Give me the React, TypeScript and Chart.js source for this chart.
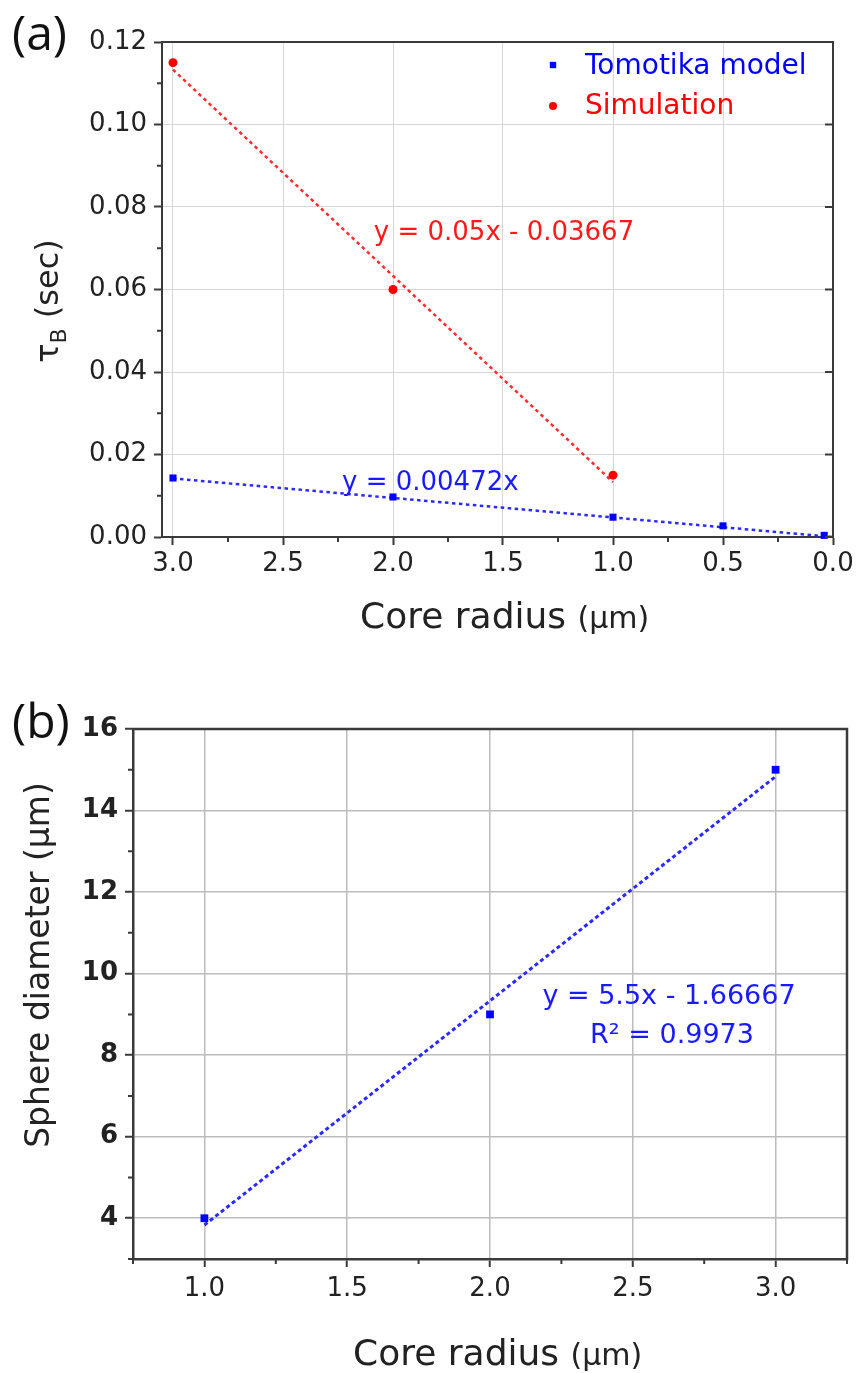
import React, { useEffect, useRef } from 'react';
import { Chart, registerables } from 'chart.js';
Chart.register(...registerables);

// ---------- panel (a) data ----------
const tomotikaRadius = [3.0, 2.0, 1.0, 0.5, 0.04];
const tomotikaTau = [0.0143, 0.0097, 0.0048, 0.0027, 0.0004];
const simulationRadius = [3.0, 2.0, 1.0];
const simulationTau = [0.115, 0.06, 0.015];
const simulationFitX = [3.0, 1.0];
const simulationFitY = [0.1133, 0.0133];
const tomotikaFitX = [3.0, 0.0];
const tomotikaFitY = [0.0142, 0.0];
const aXTicks = [3.0, 2.5, 2.0, 1.5, 1.0, 0.5, 0.0];
const aXMinor = [2.75, 2.25, 1.75, 1.25, 0.75, 0.25];
const aYTicks = [0.0, 0.02, 0.04, 0.06, 0.08, 0.1, 0.12];
const aYMinor = [0.01, 0.03, 0.05, 0.07, 0.09, 0.11];

// ---------- panel (b) data ----------
const sphereRadius = [1.0, 2.0, 3.0];
const sphereDiameter = [4, 9, 15];
const sphereFitX = [1.0, 3.0];
const sphereFitY = [3.833, 14.833];
const bXTicks = [1.0, 1.5, 2.0, 2.5, 3.0];
const bXMinor = [0.75, 1.25, 1.75, 2.25, 2.75, 3.25];
const bYTicks = [4, 6, 8, 10, 12, 14, 16];
const bYMinor = [3, 5, 7, 9, 11, 13, 15];

const FAM = '"DejaVu Sans"';
const F = (size: number, weight = 'normal') => `${weight} ${size}px ${FAM}`;
const pts = (xs: number[], ys: number[]) => xs.map((x, i) => ({ x, y: ys[i] }));

const BLUE = '#0000ff';
const RED = '#ff0000';
const AXIS = '#3a3a3a';
const LABEL = '#222222';

const deco = {
  id: 'deco',
  afterDraw(chart: any, _args: any, o: any) {
    const { ctx, chartArea: a, scales } = chart;
    const xs = scales.x;
    const ys = scales.y;
    ctx.save();
    // top and right frame
    ctx.strokeStyle = o.frameColor;
    ctx.lineWidth = o.frameWidth;
    ctx.beginPath();
    ctx.moveTo(a.left - o.frameWidth / 2, a.top);
    ctx.lineTo(a.right, a.top);
    ctx.lineTo(a.right, a.bottom + o.frameWidth / 2);
    ctx.stroke();
    // minor ticks
    ctx.lineWidth = o.tickWidth;
    ctx.beginPath();
    for (const v of o.minorX) {
      const px = xs.getPixelForValue(v);
      ctx.moveTo(px, a.bottom);
      ctx.lineTo(px, a.bottom + o.minorLen);
    }
    for (const v of o.minorY) {
      const py = ys.getPixelForValue(v);
      ctx.moveTo(a.left, py);
      ctx.lineTo(a.left - o.minorLen, py);
    }
    for (const v of o.mirrorY || []) {
      const py = ys.getPixelForValue(v);
      ctx.moveTo(a.right, py);
      ctx.lineTo(a.right - o.mirrorLen, py);
    }
    ctx.stroke();
    // legend
    for (const it of o.legend || []) {
      ctx.fillStyle = it.color;
      if (it.style === 'rect') {
        const s = it.r * Math.SQRT2;
        ctx.fillRect(it.mx - s / 2, it.my - s / 2, s, s);
      } else {
        ctx.beginPath();
        ctx.arc(it.mx, it.my, it.r, 0, Math.PI * 2);
        ctx.fill();
      }
      ctx.font = it.font;
      ctx.textBaseline = 'alphabetic';
      ctx.textAlign = 'left';
      ctx.fillText(it.label, it.tx, it.ty);
    }
    // texts
    for (const item of o.texts || []) {
      ctx.save();
      ctx.translate(item.x, item.y);
      if (item.rotate) ctx.rotate(item.rotate);
      ctx.textBaseline = 'alphabetic';
      ctx.textAlign = 'left';
      let total = 0;
      for (const p of item.parts) {
        ctx.font = p.font;
        total += ctx.measureText(p.t).width;
      }
      let x = item.align === 'center' ? -total / 2 : item.align === 'right' ? -total : 0;
      for (const p of item.parts) {
        ctx.font = p.font;
        ctx.fillStyle = p.color || item.color || LABEL;
        ctx.fillText(p.t, x, p.dy || 0);
        x += ctx.measureText(p.t).width;
      }
      ctx.restore();
    }
    ctx.restore();
  },
};

function axis(opts: any) {
  return {
    type: 'linear',
    min: opts.min,
    max: opts.max,
    reverse: !!opts.reverse,
    afterBuildTicks: (s: any) => {
      s.ticks = opts.ticks.map((v: number) => ({ value: v }));
    },
    afterFit: (s: any) => {
      if (opts.width != null) s.width = opts.width;
      if (opts.height != null) s.height = opts.height;
    },
    ticks: {
      autoSkip: false,
      maxRotation: 0,
      padding: opts.padding,
      color: LABEL,
      font: { family: 'DejaVu Sans', size: opts.fontSize, weight: opts.weight || 'normal' },
      callback: (v: number) => Number(v).toFixed(opts.decimals),
    },
    grid: {
      color: opts.gridColor,
      lineWidth: opts.gridWidth,
      tickColor: AXIS,
      tickWidth: 2,
      tickLength: 8,
      drawTicks: true,
    },
    border: { display: true, color: AXIS, width: opts.borderWidth },
  };
}

function makeA(): any {
  return {
    type: 'scatter',
    data: {
      datasets: [
        {
          label: 'Tomotika model',
          data: pts(tomotikaRadius, tomotikaTau),
          pointStyle: 'rect',
          pointRadius: 5,
          backgroundColor: BLUE,
          borderColor: BLUE,
          borderWidth: 0,
          clip: false,
        },
        {
          label: 'Simulation',
          data: pts(simulationRadius, simulationTau),
          pointStyle: 'circle',
          pointRadius: 4.5,
          backgroundColor: RED,
          borderColor: RED,
          borderWidth: 0,
          clip: false,
        },
        {
          label: 'Simulation fit',
          data: pts(simulationFitX, simulationFitY),
          showLine: true,
          pointRadius: 0,
          borderColor: '#ff2a2a',
          borderWidth: 2.5,
          borderDash: [3.5, 3.5],
        },
        {
          label: 'Tomotika fit',
          data: pts(tomotikaFitX, tomotikaFitY),
          showLine: true,
          pointRadius: 0,
          borderColor: '#2a2aff',
          borderWidth: 2.5,
          borderDash: [3.5, 3.5],
        },
      ],
    },
    options: {
      responsive: false,
      animation: false,
      layout: { padding: { top: 42, right: 25, left: 0, bottom: 0 } },
      plugins: {
        legend: { display: false },
        tooltip: { enabled: false },
        deco: {
          frameColor: AXIS,
          frameWidth: 2,
          tickWidth: 2,
          minorLen: 5,
          mirrorLen: 8,
          minorX: aXMinor,
          minorY: aYMinor,
          mirrorY: aYTicks,
          legend: [
            { label: 'Tomotika model', color: BLUE, style: 'rect', r: 4.5, mx: 553, my: 65, tx: 585, ty: 74, font: F(28) },
            { label: 'Simulation', color: RED, style: 'circle', r: 4, mx: 553, my: 106, tx: 585, ty: 114, font: F(28) },
          ],
          texts: [
            { x: 12, y: 50, color: '#111', parts: [{ t: '(a)', font: '48px "Open Sans"' }] },
            {
              x: 58, y: 301, rotate: -Math.PI / 2, align: 'center',
              parts: [
                { t: 'τ', font: F(32) },
                { t: 'B', font: F(22), dy: 8 },
                { t: ' (sec)', font: F(32) },
              ],
            },
            {
              x: 360, y: 628,
              parts: [
                { t: 'Core radius ', font: F(36) },
                { t: '(μm)', font: F(30) },
              ],
            },
            { x: 504, y: 240, align: 'center', color: '#ff1a1a', parts: [{ t: 'y = 0.05x - 0.03667', font: F(26) }] },
            { x: 342, y: 490, color: '#1a1aff', parts: [{ t: 'y = 0.00472x', font: F(26) }] },
          ],
        },
      },
      scales: {
        x: axis({
          min: 0, max: 3.05, reverse: true, ticks: aXTicks, height: 143, padding: 4,
          fontSize: 26, decimals: 1, gridColor: '#d6d6d6', gridWidth: 1, borderWidth: 2,
        }),
        y: axis({
          min: 0, max: 0.12, ticks: aYTicks, width: 162, padding: 7,
          fontSize: 26, decimals: 2, gridColor: '#d6d6d6', gridWidth: 1, borderWidth: 2,
        }),
      },
    },
    plugins: [deco],
  };
}

function makeB(): any {
  return {
    type: 'scatter',
    data: {
      datasets: [
        {
          label: 'Sphere diameter',
          data: pts(sphereRadius, sphereDiameter),
          pointStyle: 'rect',
          pointRadius: 5.5,
          backgroundColor: BLUE,
          borderColor: BLUE,
          borderWidth: 0,
          clip: false,
        },
        {
          label: 'Linear fit',
          data: pts(sphereFitX, sphereFitY),
          showLine: true,
          pointRadius: 0,
          borderColor: '#2a2aff',
          borderWidth: 3,
          borderDash: [4, 3],
        },
      ],
    },
    options: {
      responsive: false,
      animation: false,
      layout: { padding: { top: 49, right: 11, left: 0, bottom: 0 } },
      plugins: {
        legend: { display: false },
        tooltip: { enabled: false },
        deco: {
          frameColor: AXIS,
          frameWidth: 2.5,
          tickWidth: 2,
          minorLen: 5,
          mirrorLen: 0,
          minorX: bXMinor,
          minorY: bYMinor,
          texts: [
            { x: 12, y: 58, color: '#111', parts: [{ t: '(b)', font: '48px "Open Sans"' }] },
            {
              x: 49, y: 285, rotate: -Math.PI / 2, align: 'center',
              parts: [{ t: 'Sphere diameter (μm)', font: F(33) }],
            },
            {
              x: 353, y: 685,
              parts: [
                { t: 'Core radius ', font: F(36) },
                { t: '(μm)', font: F(30) },
              ],
            },
            { x: 669, y: 324, align: 'center', color: '#1a1aff', parts: [{ t: 'y = 5.5x - 1.66667', font: F(27) }] },
            { x: 672, y: 363, align: 'center', color: '#1a1aff', parts: [{ t: 'R² = 0.9973', font: F(27) }] },
          ],
        },
      },
      scales: {
        x: axis({
          min: 0.75, max: 3.25, ticks: bXTicks, height: 114, padding: 7,
          fontSize: 26, decimals: 1, gridColor: '#bcbcbc', gridWidth: 1.5, borderWidth: 2.5,
        }),
        y: axis({
          min: 3, max: 16, ticks: bYTicks, width: 133, padding: 7,
          fontSize: 26, weight: 'bold', decimals: 0, gridColor: '#bcbcbc', gridWidth: 1.5, borderWidth: 2.5,
        }),
      },
    },
    plugins: [deco],
  };
}

function Panel({ make, top, height }: { make: () => any; top: number; height: number }) {
  const ref = useRef<HTMLCanvasElement | null>(null);
  useEffect(() => {
    const chart = new Chart(ref.current as HTMLCanvasElement, make());
    return () => chart.destroy();
  }, []);
  return (
    <canvas
      ref={ref}
      width={858}
      height={height}
      style={{ position: 'absolute', left: 0, top, width: 858, height, display: 'block' }}
    />
  );
}

export default function App() {
  return (
    <div style={{ position: 'absolute', left: 0, top: 0, width: 858, height: 1373, background: '#ffffff' }}>
      <Panel make={makeA} top={0} height={680} />
      <Panel make={makeB} top={680} height={693} />
    </div>
  );
}
